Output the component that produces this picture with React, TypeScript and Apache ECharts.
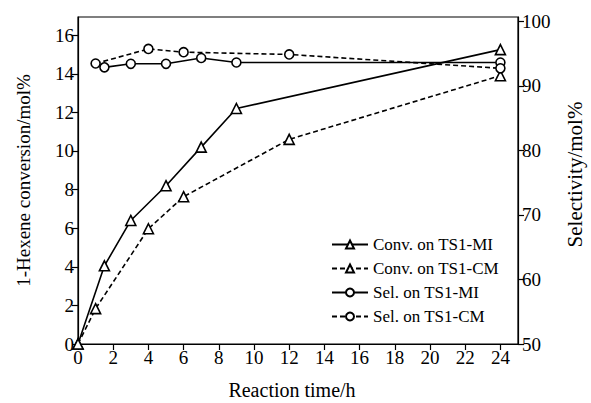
import React, { useEffect, useRef } from "react";
import * as echarts from "echarts";

const xTicks = [0, 2, 4, 6, 8, 10, 12, 14, 16, 18, 20, 22, 24];
const leftTicks = [0, 2, 4, 6, 8, 10, 12, 14, 16];
const rightTicks = [50, 60, 70, 80, 90, 100];

const convMI: [number, number][] = [
  [0, 0], [1.5, 4.05], [3, 6.4], [5, 8.2], [7, 10.2], [9, 12.2], [24, 15.25],
];
const convCM: [number, number][] = [
  [0, 0], [1, 1.83], [4, 5.97], [6, 7.63], [12, 10.6], [24, 13.9],
];
const selMI: [number, number][] = [
  [1.5, 92.85], [3, 93.4], [5, 93.4], [7, 94.3], [9, 93.6], [24, 93.6],
];
const selCM: [number, number][] = [
  [1, 93.45], [4, 95.7], [6, 95.2], [12, 94.85], [24, 92.7],
];

const seriesNames = ["Conv. on TS1-MI", "Conv. on TS1-CM", "Sel. on TS1-MI", "Sel. on TS1-CM"];

const FONT = "'Liberation Serif', 'Times New Roman', 'DejaVu Serif', serif";

export default function App() {
  const ref = useRef<HTMLDivElement>(null);
  useEffect(() => {
    if (!ref.current) return;
    const chart = echarts.init(ref.current, null, { renderer: "svg" });
    const mk = (name: string, data: [number, number][], dashed: boolean, tri: boolean, yIdx: number) => ({
      name,
      type: "line",
      yAxisIndex: yIdx,
      data,
      symbol: tri ? "triangle" : "circle",
      symbolSize: tri ? 10 : 9,
      showAllSymbol: true,
      lineStyle: { color: "#000", width: 1.6, type: dashed ? [5, 3] : "solid" },
      itemStyle: { color: "#fff", borderColor: "#000", borderWidth: 1.6 },
      z: 3,
    });
    const tickStyle = { show: true, inside: false, length: 6, lineStyle: { color: "#000", width: 1.2 } };
    const labelStyle = {
      fontFamily: FONT,
      fontSize: 19,
      color: "#000",
      margin: 4,
      formatter: "{a|{value}}",
      rich: { a: { fontFamily: FONT, fontSize: 19, color: "#000" } },
    };
    chart.setOption({
      animation: false,
      backgroundColor: "#fff",
      textStyle: { fontFamily: FONT, color: "#000" },
      grid: {
        left: 78, top: 17, width: 440, height: 327,
        containLabel: false,
        outerBoundsMode: "none",
        show: true, borderColor: "#000", borderWidth: 1.2, backgroundColor: "transparent",
      },
      legend: {
        left: 326,
        top: 231,
        orient: "vertical",
        itemGap: 7,
        itemWidth: 36,
        itemHeight: 10,
        textStyle: { fontFamily: FONT, fontSize: 17, color: "#000" },
        data: seriesNames,
      },
      xAxis: {
        type: "value",
        min: 0,
        max: 25,
        name: "Reaction time/h",
        nameLocation: "middle",
        nameGap: 36,
        nameTextStyle: { fontFamily: FONT, fontSize: 20, color: "#000", padding: [0, 12, 0, 0] },
        axisLine: { show: true, lineStyle: { color: "#000", width: 1.2 } },
        axisTick: { ...tickStyle, customValues: xTicks },
        axisLabel: { ...labelStyle, customValues: xTicks },
        splitLine: { show: false },
      },
      yAxis: [
        {
          type: "value",
          min: 0,
          max: 16.94,
          name: "1-Hexene conversion/mol%",
          nameLocation: "middle",
          nameGap: 45,
          nameTextStyle: { fontFamily: FONT, fontSize: 19, color: "#000" },
          axisLine: { show: true, lineStyle: { color: "#000", width: 1.2 } },
          axisTick: { ...tickStyle, customValues: leftTicks },
          axisLabel: { ...labelStyle, customValues: leftTicks },
          splitLine: { show: false },
        },
        {
          type: "value",
          min: 50,
          max: 100.65,
          position: "right",
          name: "Selectivity/mol%",
          nameLocation: "middle",
          nameGap: 46,
          nameRotate: 90,
          nameTextStyle: { fontFamily: FONT, fontSize: 21, color: "#000", padding: [0, 0, 0, 12] },
          axisLine: { show: true, lineStyle: { color: "#000", width: 1.2 } },
          axisTick: { ...tickStyle, customValues: rightTicks },
          axisLabel: { ...labelStyle, customValues: rightTicks },
          splitLine: { show: false },
        },
      ],
      series: [
        mk(seriesNames[0], convMI, false, true, 0),
        mk(seriesNames[1], convCM, true, true, 0),
        mk(seriesNames[2], selMI, false, false, 1),
        mk(seriesNames[3], selCM, true, false, 1),
      ],
    });
    return () => chart.dispose();
  }, []);
  return <div ref={ref} style={{ width: 591, height: 403, position: "absolute", left: 0, top: 0 }} />;
}
